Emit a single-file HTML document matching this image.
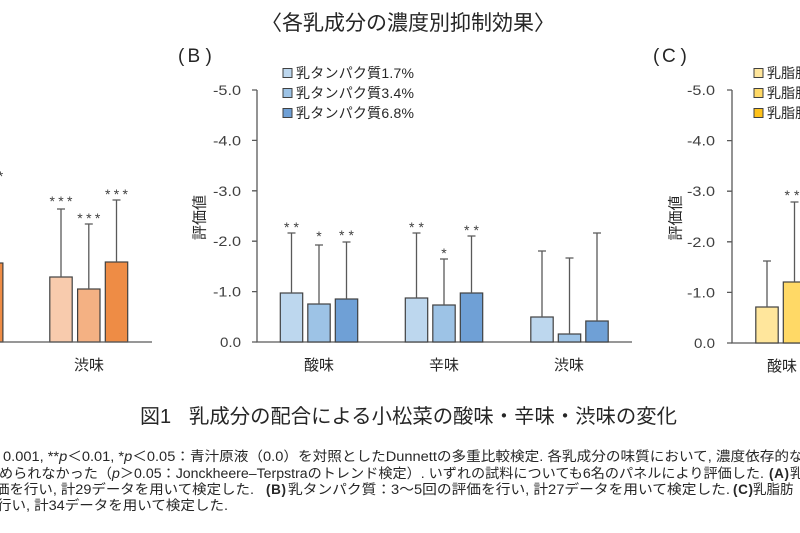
<!DOCTYPE html>
<html>
<head>
<meta charset="utf-8">
<style>
html,body{margin:0;padding:0;background:#fff;width:800px;height:533px;overflow:hidden;}
svg{display:block;}
text{font-family:"Liberation Sans","Noto Sans CJK JP",sans-serif;fill:#262626;}
.tk{font-size:14px;fill:#404040;}
.cat{font-size:15px;}
.st{font-size:14px;fill:#404040;}
.lg{font-size:14px;}
.fn{font-size:13.5px;}
</style>
</head>
<body>
<svg width="800" height="533" viewBox="0 0 800 533" xmlns="http://www.w3.org/2000/svg">
<rect width="800" height="533" fill="#fff"/>

<!-- Title -->
<text x="261" y="30" style="font-size:21px" textLength="294" lengthAdjust="spacingAndGlyphs">〈各乳成分の濃度別抑制効果〉</text>

<!-- Panel labels -->
<text x="178 187.5 205.5" y="62" style="font-size:19px">(B)</text>
<text x="653 662 680.5" y="62" style="font-size:19px">(C)</text>

<!-- ========== Panel A (cropped) ========== -->
<g stroke="#404040" stroke-width="1.2">
  <rect x="-19.5" y="263" width="22.4" height="79" fill="#EE8C45"/>
  <rect x="49.8" y="277" width="22.4" height="65" fill="#F8CBAD"/>
  <rect x="77.6" y="289" width="22.4" height="53" fill="#F4B183"/>
  <rect x="105.3" y="262" width="22.4" height="80" fill="#EE8C45"/>
</g>
<g stroke="#595959" stroke-width="1.3" fill="none">
  <path d="M61 277V209M57 209H65"/>
  <path d="M88.8 289V224M84.8 224H92.8"/>
  <path d="M116.5 262V200M112.5 200H120.5"/>
  <path d="M0 342H152"/>
</g>
<text class="st" x="-8.3" y="181" text-anchor="middle" textLength="23">***</text>
<text class="st" x="61" y="206" text-anchor="middle" textLength="23">***</text>
<text class="st" x="88.8" y="223" text-anchor="middle" textLength="23">***</text>
<text class="st" x="116.5" y="199" text-anchor="middle" textLength="23">***</text>
<text class="cat" x="89" y="370" text-anchor="middle">渋味</text>

<!-- ========== Panel B ========== -->
<g stroke="#404040" stroke-width="1">
  <rect x="283" y="68.5" width="9" height="9" fill="#BDD7EE"/>
  <rect x="283" y="88.5" width="9" height="9" fill="#9DC3E6"/>
  <rect x="283" y="108.5" width="9" height="9" fill="#6FA0D6"/>
</g>
<text class="lg" x="296" y="78" textLength="118">乳タンパク質1.7%</text>
<text class="lg" x="296" y="98" textLength="118">乳タンパク質3.4%</text>
<text class="lg" x="296" y="118" textLength="118">乳タンパク質6.8%</text>

<g stroke="#595959" stroke-width="1.3" fill="none">
  <path d="M257 90V342H632"/>
  <path d="M252 90H257M252 140.4H257M252 190.8H257M252 241.2H257M252 291.6H257M252 342H257"/>
</g>
<text class="tk" x="241" y="95" text-anchor="end" textLength="28" lengthAdjust="spacingAndGlyphs">-5.0</text>
<text class="tk" x="241" y="145.4" text-anchor="end" textLength="28" lengthAdjust="spacingAndGlyphs">-4.0</text>
<text class="tk" x="241" y="195.8" text-anchor="end" textLength="28" lengthAdjust="spacingAndGlyphs">-3.0</text>
<text class="tk" x="241" y="246.2" text-anchor="end" textLength="28" lengthAdjust="spacingAndGlyphs">-2.0</text>
<text class="tk" x="241" y="296.6" text-anchor="end" textLength="28" lengthAdjust="spacingAndGlyphs">-1.0</text>
<text class="tk" x="241" y="347" text-anchor="end" textLength="21" lengthAdjust="spacingAndGlyphs">0.0</text>
<text x="200" y="217.5" style="font-size:15px" text-anchor="middle" dominant-baseline="central" transform="rotate(-90 200 217.5)">評価値</text>

<g stroke="#404040" stroke-width="1.2">
  <rect x="280.3" y="293" width="22.4" height="49" fill="#BDD7EE"/>
  <rect x="307.8" y="304" width="22.4" height="38" fill="#9DC3E6"/>
  <rect x="335.3" y="299" width="22.4" height="43" fill="#6FA0D6"/>
  <rect x="405.3" y="298" width="22.4" height="44" fill="#BDD7EE"/>
  <rect x="432.8" y="305" width="22.4" height="37" fill="#9DC3E6"/>
  <rect x="460.3" y="293" width="22.4" height="49" fill="#6FA0D6"/>
  <rect x="530.8" y="317" width="22.4" height="25" fill="#BDD7EE"/>
  <rect x="558.3" y="334" width="22.4" height="8" fill="#9DC3E6"/>
  <rect x="585.8" y="321" width="22.4" height="21" fill="#6FA0D6"/>
</g>
<g stroke="#595959" stroke-width="1.3" fill="none">
  <path d="M291.5 293V233M287.5 233H295.5"/>
  <path d="M319 304V245M315 245H323"/>
  <path d="M346.5 299V242M342.5 242H350.5"/>
  <path d="M416.5 298V233M412.5 233H420.5"/>
  <path d="M444 305V259M440 259H448"/>
  <path d="M471.5 293V236M467.5 236H475.5"/>
  <path d="M542 317V251M538 251H546"/>
  <path d="M569.5 334V258M565.5 258H573.5"/>
  <path d="M597 321V233M593 233H601"/>
</g>
<text class="st" x="291.5" y="232" text-anchor="middle" textLength="15">**</text>
<text class="st" x="319" y="241" text-anchor="middle">*</text>
<text class="st" x="346.5" y="240" text-anchor="middle" textLength="15">**</text>
<text class="st" x="416.5" y="232" text-anchor="middle" textLength="15">**</text>
<text class="st" x="444" y="258" text-anchor="middle">*</text>
<text class="st" x="471.5" y="235" text-anchor="middle" textLength="15">**</text>

<text class="cat" x="319" y="370" text-anchor="middle">酸味</text>
<text class="cat" x="444" y="370" text-anchor="middle">辛味</text>
<text class="cat" x="569" y="370" text-anchor="middle">渋味</text>

<!-- ========== Panel C (cropped) ========== -->
<g stroke="#404040" stroke-width="1">
  <rect x="754" y="68.5" width="9" height="9" fill="#FFE69C"/>
  <rect x="754" y="88.5" width="9" height="9" fill="#FFD966"/>
  <rect x="754" y="108.5" width="9" height="9" fill="#FFC21A"/>
</g>
<text class="lg" x="767" y="78">乳脂肪</text>
<text class="lg" x="767" y="98">乳脂肪</text>
<text class="lg" x="767" y="118">乳脂肪</text>

<g stroke="#595959" stroke-width="1.3" fill="none">
  <path d="M732 90V343H800"/>
  <path d="M727 90H732M727 140.6H732M727 191.2H732M727 241.8H732M727 292.4H732M727 343H732"/>
</g>
<text class="tk" x="715" y="95" text-anchor="end" textLength="28" lengthAdjust="spacingAndGlyphs">-5.0</text>
<text class="tk" x="715" y="145.6" text-anchor="end" textLength="28" lengthAdjust="spacingAndGlyphs">-4.0</text>
<text class="tk" x="715" y="196.2" text-anchor="end" textLength="28" lengthAdjust="spacingAndGlyphs">-3.0</text>
<text class="tk" x="715" y="246.8" text-anchor="end" textLength="28" lengthAdjust="spacingAndGlyphs">-2.0</text>
<text class="tk" x="715" y="297.4" text-anchor="end" textLength="28" lengthAdjust="spacingAndGlyphs">-1.0</text>
<text class="tk" x="715" y="348" text-anchor="end" textLength="21" lengthAdjust="spacingAndGlyphs">0.0</text>
<text x="676" y="218" style="font-size:15px" text-anchor="middle" dominant-baseline="central" transform="rotate(-90 676 218)">評価値</text>

<g stroke="#404040" stroke-width="1.2">
  <rect x="755.8" y="307" width="22.4" height="36" fill="#FFE69C"/>
  <rect x="783.3" y="282" width="22.4" height="61" fill="#FFD966"/>
</g>
<g stroke="#595959" stroke-width="1.3" fill="none">
  <path d="M767 307V261M763 261H771"/>
  <path d="M794.5 282V202M790.5 202H798.5"/>
</g>
<text class="st" x="792" y="200" text-anchor="middle" textLength="15">**</text>
<text class="cat" x="767" y="371">酸味</text>

<!-- ========== Caption ========== -->
<text x="140" y="423" style="font-size:20px">図1</text>
<text x="189" y="423" style="font-size:20px" textLength="488" lengthAdjust="spacingAndGlyphs">乳成分の配合による小松菜の酸味・辛味・渋味の変化</text>

<!-- ========== Footnote ========== -->
<text class="fn" x="3" y="461" textLength="786" lengthAdjust="spacingAndGlyphs">0.001, **<tspan font-style="italic">p</tspan>＜0.01, *<tspan font-style="italic">p</tspan>＜0.05：青汁原液（0.0）を対照としたDunnettの多重比較検定. 各乳成分の味質において, 濃度依存的</text>
<text class="fn" x="789" y="461">な</text>

<text class="fn" x="-1" y="478" textLength="765" lengthAdjust="spacingAndGlyphs">められなかった（<tspan font-style="italic">p</tspan>＞0.05：Jonckheere–Terpstraのトレンド検定）. いずれの試料についても6名のパネルにより評価した.</text>
<text class="fn" x="769" y="478" font-weight="bold" textLength="20">(A)</text>
<text class="fn" x="790" y="478">乳</text>

<text class="fn" x="-5" y="494" textLength="259" lengthAdjust="spacingAndGlyphs">価を行い, 計29データを用いて検定した.</text>
<text class="fn" x="266" y="494" font-weight="bold" textLength="20">(B)</text>
<text class="fn" x="288" y="494" textLength="442" lengthAdjust="spacingAndGlyphs">乳タンパク質：3～5回の評価を行い, 計27データを用いて検定した.</text>
<text class="fn" x="733" y="494" font-weight="bold" textLength="20">(C)</text>
<text class="fn" x="753" y="494">乳脂肪</text>

<text class="fn" x="-3" y="510" textLength="231" lengthAdjust="spacingAndGlyphs">行い, 計34データを用いて検定した.</text>
</svg>
</body>
</html>
